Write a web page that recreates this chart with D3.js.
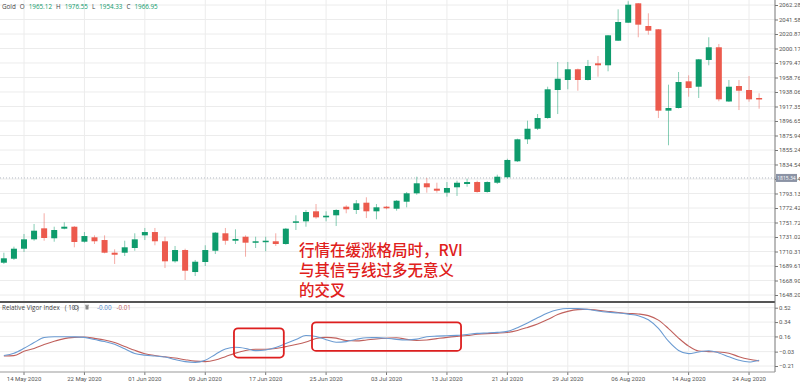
<!DOCTYPE html>
<html>
<head>
<meta charset="utf-8">
<script src="https://cdn.jsdelivr.net/npm/d3@7"></script>
<style>
body { margin: 0; background: #fff; }
svg { display: block; font-family: "Open Sans", Roboto, sans-serif; }
</style>
</head>
<body>
<div id="chart"></div>
<script>
"use strict";

// trading days shown on the chart
const dates = [
    "12 May 2020","13 May 2020","14 May 2020","15 May 2020","18 May 2020","19 May 2020","20 May 2020","21 May 2020","22 May 2020","25 May 2020",
    "26 May 2020","27 May 2020","28 May 2020","29 May 2020","01 Jun 2020","02 Jun 2020","03 Jun 2020","04 Jun 2020","05 Jun 2020","08 Jun 2020",
    "09 Jun 2020","10 Jun 2020","11 Jun 2020","12 Jun 2020","15 Jun 2020","16 Jun 2020","17 Jun 2020","18 Jun 2020","19 Jun 2020","22 Jun 2020",
    "23 Jun 2020","24 Jun 2020","25 Jun 2020","26 Jun 2020","29 Jun 2020","30 Jun 2020","01 Jul 2020","02 Jul 2020","03 Jul 2020","06 Jul 2020",
    "07 Jul 2020","08 Jul 2020","09 Jul 2020","10 Jul 2020","13 Jul 2020","14 Jul 2020","15 Jul 2020","16 Jul 2020","17 Jul 2020","20 Jul 2020",
    "21 Jul 2020","22 Jul 2020","23 Jul 2020","24 Jul 2020","27 Jul 2020","28 Jul 2020","29 Jul 2020","30 Jul 2020","31 Jul 2020","03 Aug 2020",
    "04 Aug 2020","05 Aug 2020","06 Aug 2020","07 Aug 2020","10 Aug 2020","11 Aug 2020","12 Aug 2020","13 Aug 2020","14 Aug 2020","17 Aug 2020",
    "18 Aug 2020","19 Aug 2020","20 Aug 2020","21 Aug 2020","24 Aug 2020","25 Aug 2020"
];

const open = [1694.3,1700.0,1714.3,1727.7,1743.4,1729.2,1742.9,1745.7,1724.3,1730.6,
    1726.7,1708.6,1708.6,1715.3,1733.4,1738.1,1724.9,1696.3,1712.4,1681.0,
    1695.3,1711.4,1736.3,1725.7,1731.4,1723.4,1723.9,1724.9,1721.0,1751.4,
    1753.4,1767.7,1759.1,1762.0,1774.3,1769.6,1780.0,1767.7,1774.3,1771.4,
    1781.4,1793.4,1807.7,1800.0,1794.3,1802.0,1806.7,1809.5,1795.3,1808.5,
    1816.3,1839.1,1870.5,1885.6,1900.9,1940.9,1955.2,1970.5,1955.2,1979.0,
    1976.2,2011.3,2037.0,2064.7,2032.3,2027.6,1911.4,1915.2,1953.3,1945.6,
    1983.8,2001.9,1924.5,1946.6,1940.9,1929.5];

const high = [1708.6,1717.2,1735.3,1749.6,1764.9,1745.7,1752.0,1746.7,1738.1,1733.4,
    1733.4,1713.4,1725.7,1736.3,1743.9,1743.9,1731.4,1718.2,1714.3,1698.2,
    1719.2,1738.1,1743.9,1742.0,1733.4,1731.4,1731.4,1736.3,1743.9,1762.0,
    1769.6,1778.1,1767.7,1770.6,1776.3,1783.8,1787.7,1778.1,1775.3,1783.8,
    1795.3,1817.1,1815.3,1808.5,1809.5,1811.4,1814.3,1811.4,1810.5,1820.0,
    1842.8,1871.4,1897.1,1906.6,1945.6,1980.9,1980.9,1971.5,1983.8,1989.5,
    2019.4,2056.1,2067.6,2065.1,2050.4,2028.0,1948.5,1966.6,1961.9,1985.2,
    2016.2,2006.6,1955.2,1955.2,1960.9,1936.2];

const low = [1692.5,1698.2,1709.6,1725.7,1725.7,1724.3,1742.0,1716.3,1722.9,1721.0,
    1707.7,1692.5,1703.9,1711.4,1726.7,1719.2,1686.7,1694.3,1669.6,1675.3,
    1689.6,1706.7,1720.0,1721.0,1702.9,1715.3,1710.6,1718.2,1720.0,1741.0,
    1745.7,1757.1,1753.4,1746.7,1764.9,1763.9,1758.1,1756.3,1770.6,1768.6,
    1773.4,1791.4,1794.3,1794.3,1788.6,1789.6,1802.8,1794.3,1794.3,1806.7,
    1814.3,1838.1,1863.8,1883.8,1899.9,1906.6,1941.9,1939.9,1954.5,1959.9,
    1967.6,2010.9,2036.6,2016.2,2019.9,1900.9,1862.0,1914.5,1931.3,1929.5,
    1976.2,1924.8,1923.8,1912.3,1924.2,1914.2];

const close = [1700.6,1714.3,1727.7,1740.0,1729.6,1741.0,1745.7,1723.9,1732.4,1724.9,
    1708.6,1705.7,1716.3,1727.7,1738.1,1724.9,1696.3,1712.4,1682.9,1695.7,
    1712.4,1737.2,1725.7,1728.2,1722.9,1724.9,1725.7,1721.0,1742.9,1753.4,
    1766.7,1759.1,1761.4,1769.6,1770.6,1779.1,1767.7,1773.4,1772.0,1782.8,
    1793.4,1807.7,1802.0,1797.1,1801.0,1808.5,1809.5,1795.3,1809.5,1817.1,
    1841.0,1870.5,1885.6,1900.9,1941.9,1957.0,1970.5,1955.2,1975.2,1976.2,
    2019.0,2038.0,2062.7,2034.2,2025.6,1911.4,1915.2,1952.3,1943.8,1984.7,
    2001.9,1927.6,1945.6,1939.9,1927.6,1927.6];

// Relative Vigor Index (10) and its signal line
const rvi = [-0.079,-0.050,0.011,0.083,0.146,0.156,0.157,0.155,0.148,0.121,
    0.096,0.063,0.005,-0.053,-0.074,-0.085,-0.098,-0.129,-0.155,-0.165,
    -0.138,-0.065,0.004,0.024,0.010,-0.018,-0.010,0.021,0.071,0.121,
    0.171,0.159,0.119,0.088,0.095,0.124,0.144,0.145,0.138,0.123,
    0.116,0.126,0.157,0.164,0.169,0.173,0.185,0.198,0.204,0.211,
    0.224,0.270,0.328,0.393,0.455,0.495,0.510,0.509,0.498,0.479,
    0.464,0.453,0.439,0.420,0.368,0.260,0.100,-0.015,-0.055,-0.034,
    -0.019,-0.046,-0.095,-0.138,-0.160,-0.138];

const signal = [-0.084,-0.080,-0.025,0.010,0.058,0.100,0.133,0.148,0.153,0.136,
    0.115,0.083,0.035,-0.014,-0.056,-0.079,-0.095,-0.110,-0.131,-0.149,
    -0.155,-0.136,-0.093,-0.049,-0.015,0.000,0.000,0.009,0.033,0.059,
    0.091,0.135,0.149,0.139,0.109,0.104,0.116,0.129,0.138,0.144,
    0.123,0.110,0.116,0.133,0.149,0.161,0.171,0.187,0.196,0.201,
    0.210,0.235,0.273,0.316,0.371,0.435,0.474,0.496,0.501,0.486,
    0.473,0.460,0.448,0.441,0.421,0.364,0.259,0.140,0.039,-0.023,
    -0.030,-0.034,-0.050,-0.093,-0.125,-0.146];

const priceTicks = [2062.28,2041.58,2020.87,2000.17,1979.47,1958.76,1938.06,1917.35,1896.65,1875.94,
    1855.24,1834.54,1813.84,1793.13,1772.42,1751.72,1731.02,1710.31,1689.61,1668.90,1648.20];
const rviTicks = [0.52,0.34,0.16,-0.03,-0.21];
const dateTicks = ["14 May 2020","22 May 2020","01 Jun 2020","09 Jun 2020","17 Jun 2020","25 Jun 2020",
    "03 Jul 2020","13 Jul 2020","21 Jul 2020","29 Jul 2020","06 Aug 2020","14 Aug 2020","24 Aug 2020"];

const lastPrice = 1815.34;
const legendOHLC = ["1965.12","1976.55","1954.33","1966.95"];
const legendRvi = ["-0.00","-0.01"];
const noteLines = ["行情在缓涨格局时，RVI", "与其信号线过多无意义", "的交叉"];
// highlighted RVI zones: candle index range and value range
const boxes = [
    {from: 22.85, to: 27.8, top: 0.262, bottom: -0.105},
    {from: 30.6, to: 45.4, top: 0.337, bottom: -0.021}
];

const msm = {
    width: 800,
    height: 384,
    axisX: 775,
    mainTop: 5,
    mainBottom: 295,
    sepY: 302,
    rviTop: 307.7,
    rviBottom: 366,
    panelBottom: 372
};

const up = "#0e9b6c";
const down = "#ec5a4d";
const grid = "#ececec";

let svg = d3.select("#chart").append("svg")
    .attr("width", msm.width)
    .attr("height", msm.height);

let x = d3.scaleBand()
    .domain(dates)
    .range([-1.17, 764.15])
    .padding(0);
let xc = (d) => x(d) + x.bandwidth() / 2;
let xi = d3.scaleLinear().domain([0, dates.length - 1]).range([xc(dates[0]), xc(dates[dates.length - 1])]);

let yP = d3.scaleLinear().domain([1648.20, 2062.28]).range([msm.mainBottom, msm.mainTop]);
let yR = d3.scaleLinear().domain([-0.21, 0.52]).range([msm.rviBottom, msm.rviTop]);

// grid
svg.append("g").selectAll("line")
    .data(dateTicks).enter().append("line")
    .attr("x1", xc).attr("x2", xc)
    .attr("y1", 0).attr("y2", msm.panelBottom)
    .attr("stroke", grid);
svg.append("g").selectAll("line")
    .data(priceTicks).enter().append("line")
    .attr("x1", 0).attr("x2", msm.axisX)
    .attr("y1", (d) => yP(d)).attr("y2", (d) => yP(d))
    .attr("stroke", grid);
svg.append("g").selectAll("line")
    .data(rviTicks).enter().append("line")
    .attr("x1", 0).attr("x2", msm.axisX)
    .attr("y1", (d) => yR(d)).attr("y2", (d) => yR(d))
    .attr("stroke", grid);

// last price line
svg.append("line")
    .attr("x1", 0).attr("x2", msm.axisX)
    .attr("y1", yP(lastPrice)).attr("y2", yP(lastPrice))
    .attr("stroke", "#b5bac4")
    .attr("stroke-dasharray", "1,2");

// candles
let candles = svg.append("g").selectAll("g")
    .data(dates.map((d, i) => ({date: d, o: open[i], h: high[i], l: low[i], c: close[i]})))
    .enter().append("g");
candles.append("line")
    .attr("x1", (d) => xc(d.date)).attr("x2", (d) => xc(d.date))
    .attr("y1", (d) => yP(d.h)).attr("y2", (d) => yP(d.l))
    .attr("stroke", (d) => d.c >= d.o ? up : down)
    .attr("stroke-opacity", 0.5)
    .attr("stroke-width", 1);
candles.append("rect")
    .attr("x", (d) => xc(d.date) - 3)
    .attr("width", 6)
    .attr("y", (d) => yP(Math.max(d.o, d.c)))
    .attr("height", (d) => Math.max(1.5, Math.abs(yP(d.o) - yP(d.c))))
    .attr("fill", (d) => d.c >= d.o ? up : down);

// panel separator
svg.append("line")
    .attr("x1", 0).attr("x2", msm.axisX)
    .attr("y1", msm.sepY).attr("y2", msm.sepY)
    .attr("stroke", "#555").attr("stroke-width", 2);

// RVI lines
let line = (vals) => d3.line()
    .x((d, i) => xc(dates[i]))
    .y((d) => yR(d))
    .curve(d3.curveMonotoneX)(vals);
svg.append("path").attr("d", line(signal))
    .attr("fill", "none").attr("stroke", "#c0605c").attr("stroke-width", 1.1);
svg.append("path").attr("d", line(rvi))
    .attr("fill", "none").attr("stroke", "#6b9bd2").attr("stroke-width", 1.1);

// highlight boxes
svg.append("g").selectAll("rect")
    .data(boxes).enter().append("rect")
    .attr("x", (d) => xi(d.from))
    .attr("width", (d) => xi(d.to) - xi(d.from))
    .attr("y", (d) => yR(d.top))
    .attr("height", (d) => yR(d.bottom) - yR(d.top))
    .attr("rx", 4)
    .attr("fill", "none")
    .attr("stroke", "#dd1f1f")
    .attr("stroke-width", 1.8);

// right axes
let pAxis = d3.axisRight(yP).tickValues(priceTicks).tickSize(3).tickFormat(d3.format(".2f"));
let pg = svg.append("g").attr("transform", "translate(" + msm.axisX + ",0)").call(pAxis);
let rAxis = d3.axisRight(yR).tickValues(rviTicks).tickSize(3).tickFormat(d3.format(".2f"));
let rg = svg.append("g").attr("transform", "translate(" + msm.axisX + ",0)").call(rAxis);
let xAxis = d3.axisBottom(x).tickValues(dateTicks).tickSize(3);
let xg = svg.append("g").attr("transform", "translate(0," + msm.panelBottom + ")").call(xAxis);

for (let g of [pg, rg, xg]) {
    g.select(".domain").remove();
    g.selectAll(".tick line").attr("stroke", "#777");
    g.selectAll(".tick text")
        .attr("fill", "#555")
        .style("font-size", "6px")
        .style("font-family", "Roboto, sans-serif");
}
pg.selectAll(".tick text").attr("x", 4);
rg.selectAll(".tick text").attr("x", 4);
xg.selectAll(".tick text").attr("y", 5);

svg.append("line")
    .attr("x1", msm.axisX).attr("x2", msm.axisX)
    .attr("y1", 0).attr("y2", msm.panelBottom)
    .attr("stroke", "#777");
svg.append("line")
    .attr("x1", 0).attr("x2", msm.axisX)
    .attr("y1", msm.panelBottom).attr("y2", msm.panelBottom)
    .attr("stroke", "#999");

// last price tag
svg.append("rect")
    .attr("x", msm.axisX + 1).attr("y", yP(lastPrice) - 4)
    .attr("width", 21).attr("height", 8)
    .attr("fill", "#8b93a5");
svg.append("text")
    .attr("x", msm.axisX + 11.5).attr("y", yP(lastPrice) + 2)
    .attr("text-anchor", "middle")
    .attr("fill", "#fff")
    .style("font-size", "5px")
    .text(lastPrice.toFixed(2));

// header legend
let hdr = svg.append("text").attr("x", 2).attr("y", 9).style("font-size", "6.3px").attr("fill", "#444");
hdr.append("tspan").text("Gold");
["O", "H", "L", "C"].forEach((k, i) => {
    hdr.append("tspan").attr("dx", 4).attr("fill", "#444").text(k);
    hdr.append("tspan").attr("dx", 4).attr("fill", up).text(legendOHLC[i]);
});

// RVI legend
let rl = svg.append("text").attr("x", 2).attr("y", 309.5).style("font-size", "6.3px").attr("fill", "#444");
rl.append("tspan").text("Relative Vigor Index");
rl.append("tspan").attr("dx", 5).text("( 10 )");
svg.append("circle").attr("cx", 76).attr("cy", 307.5).attr("r", 2)
    .attr("fill", "none").attr("stroke", "#777").attr("stroke-width", 1);
svg.append("rect").attr("x", 85.5).attr("y", 305.5).attr("width", 3).attr("height", 4).attr("fill", "#888");
svg.append("rect").attr("x", 85).attr("y", 304.8).attr("width", 4).attr("height", 0.8).attr("fill", "#888");
let rv = svg.append("text").attr("x", 97).attr("y", 309.5).style("font-size", "6.3px");
rv.append("tspan").attr("fill", "#4f86c6").text(legendRvi[0]);
rv.append("tspan").attr("dx", 5).attr("fill", "#c0605c").text(legendRvi[1]);

// annotation
svg.append("g").selectAll("text")
    .data(noteLines).enter().append("text")
    .attr("x", 299)
    .attr("y", (d, i) => 256 + i * 20)
    .attr("fill", "#e0201b")
    .style("font-family", "'Noto Sans CJK SC', sans-serif")
    .style("font-size", "15.5px")
    .style("font-weight", 500)
    .text((d) => d);
</script>
</body>
</html>
